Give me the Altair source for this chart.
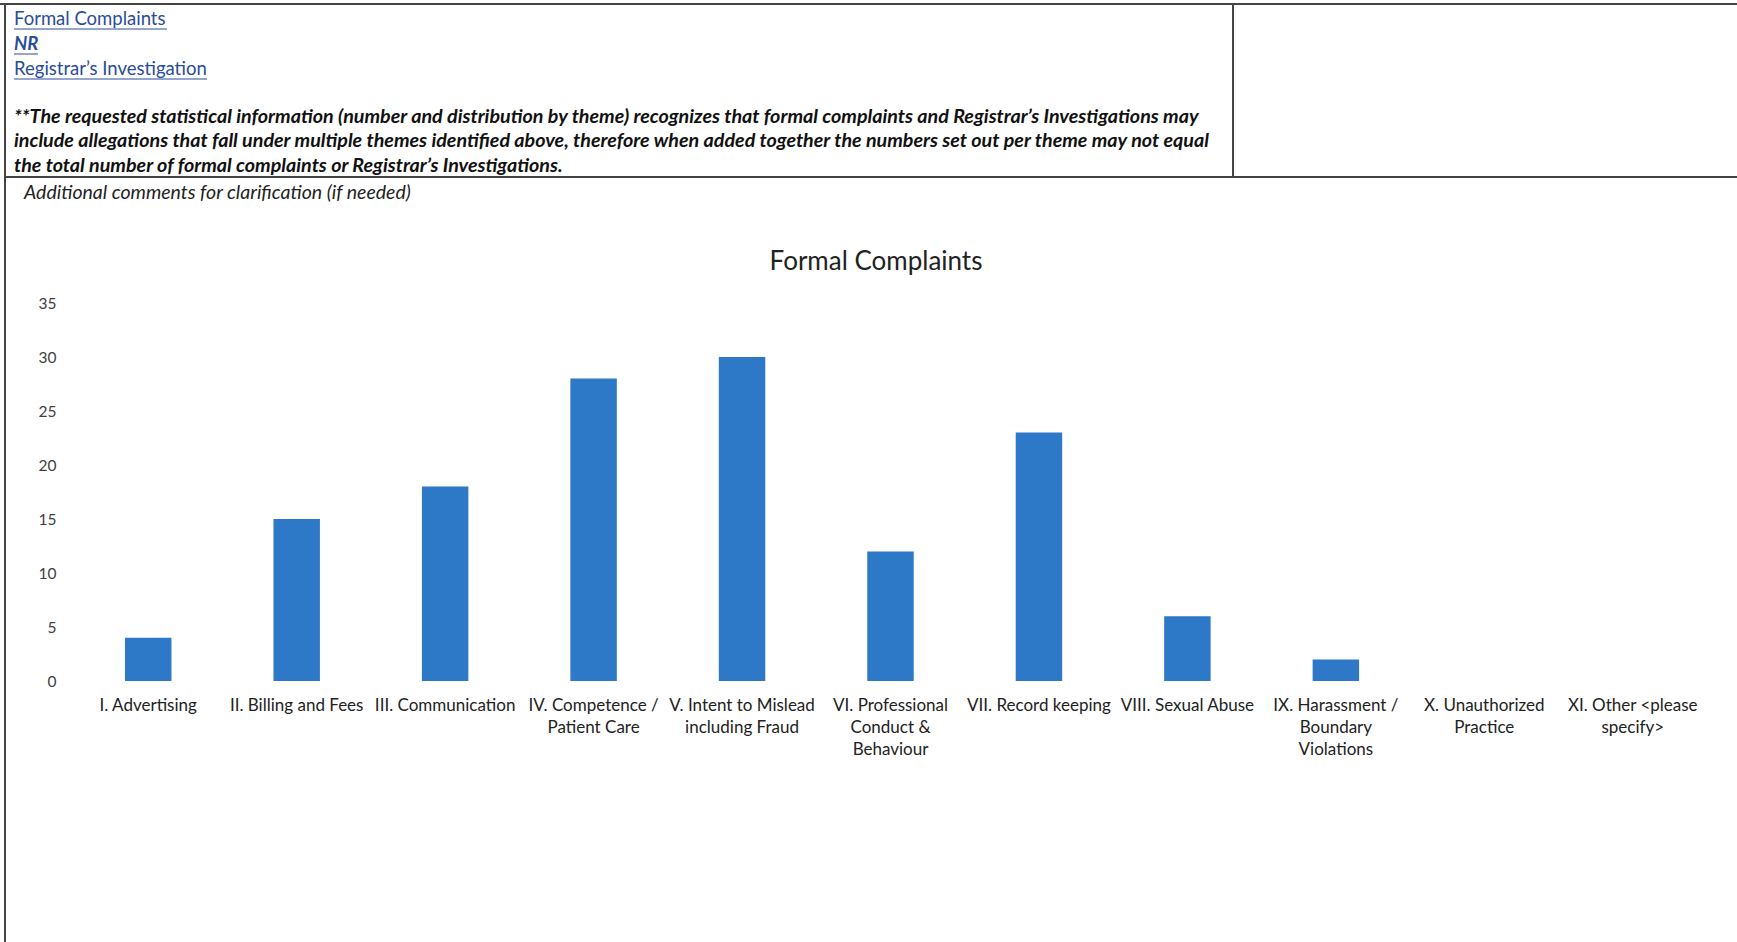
import altair as alt
import pandas as pd

categories = [
    "I. Advertising",
    "II. Billing and Fees",
    "III. Communication",
    "IV. Competence /\nPatient Care",
    "V. Intent to Mislead\nincluding Fraud",
    "VI. Professional\nConduct &\nBehaviour",
    "VII. Record keeping",
    "VIII. Sexual Abuse",
    "IX. Harassment /\nBoundary\nViolations",
    "X. Unauthorized\nPractice",
    "XI. Other <please\nspecify>",
]
values = [4, 15, 18, 28, 30, 12, 23, 6, 2, 0, 0]
y_ticks = [0, 5, 10, 15, 20, 25, 30, 35]

chart_title = "Formal Complaints"
header_links = ["Formal Complaints", "NR", "Registrar\u2019s Investigation"]
note_lines = [
    "**The requested statistical information (number and distribution by theme) recognizes that formal complaints and Registrar\u2019s Investigations may",
    "include allegations that fall under multiple themes identified above, therefore when added together the numbers set out per theme may not equal",
    "the total number of formal complaints or Registrar\u2019s Investigations.",
]
comment_line = "Additional comments for clarification (if needed)"

FONT = "Lato"
BLUE = "#2E78C8"
LINK = "#2B4C9B"

df = pd.DataFrame({"theme": categories, "count": values})
one = pd.DataFrame({"k": [0]})

# plot area: left 74, top 303, width 1633, height 378
L, T = 74, 303

bars = alt.Chart(df).mark_bar(color=BLUE).encode(
    x=alt.X(
        "theme:N",
        sort=categories,
        scale=alt.Scale(paddingInner=0.687, paddingOuter=0.3435),
        axis=alt.Axis(
            title=None, domain=False, ticks=False, labelAngle=0,
            labelExpr="split(datum.label, '\\n')",
            labelFont=FONT, labelFontSize=17, labelColor="#222222",
            labelPadding=16, labelLineHeight=22, labelLimit=300,
            labelBaseline="top",
        ),
    ),
    y=alt.Y(
        "count:Q",
        scale=alt.Scale(domain=[0, 35], nice=False),
        axis=alt.Axis(
            title=None, domain=False, ticks=False, grid=False,
            values=y_ticks, labelFont=FONT, labelFontSize=15.5,
            labelColor="#404040", labelPadding=18,
        ),
    ),
)

layers = [bars]

def txt(text, x, y, size, color="#111111", style="normal", weight="normal", align="left"):
    return alt.Chart(one).mark_text(
        font=FONT, fontSize=size, color=color, fontStyle=style,
        fontWeight=weight, align=align, baseline="middle",
    ).encode(x=alt.value(x - L), y=alt.value(y - T), text=alt.value(text))

def rule(x1, x2, y1, y2, color="#444444", w=2):
    return alt.Chart(one).mark_rule(color=color, strokeWidth=w).encode(
        x=alt.value(x1 - L), x2=alt.value(x2 - L),
        y=alt.value(y1 - T), y2=alt.value(y2 - T),
    )

# chart title
layers.append(txt(chart_title, 876, 262, 26, color="#222222", align="center"))

# header links
link_y = [19, 44, 69]
link_w = [153, 24, 193]
for t, yy, ww in zip(header_links, link_y, link_w):
    layers.append(txt(t, 14, yy, 18.5, color=LINK,
                      style="italic" if t == "NR" else "normal",
                      weight="bold" if t == "NR" else "normal"))
    layers.append(rule(14, 14 + ww, yy + 10, yy + 10, color=LINK, w=1))

for t, yy in zip(note_lines, [117, 141, 166]):
    layers.append(txt(t, 14, yy, 19.7, style="italic", weight="bold"))

layers.append(txt(comment_line, 24, 193, 19.5, color="#222222", style="italic"))

# table borders
layers.append(rule(0, 1737, 4, 4))
layers.append(rule(5, 5, 4, 942))
layers.append(rule(1233, 1233, 4, 177))
layers.append(rule(5, 1737, 177, 177))

chart = alt.layer(*layers).properties(
    width=1633, height=378,
    padding={"left": L, "top": T, "right": 30, "bottom": 261},
    autosize=alt.AutoSizeParams(type="none"),
    background="white",
).configure_view(stroke=None)

chart.save("out.html", embed_options={"renderer": "svg", "actions": False})
